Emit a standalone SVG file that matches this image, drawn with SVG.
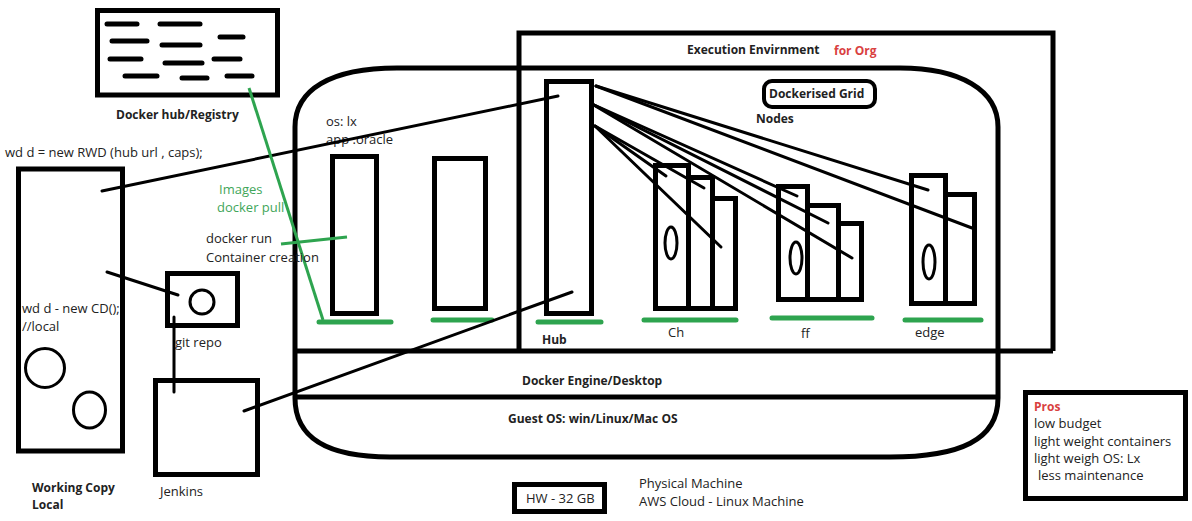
<svg xmlns="http://www.w3.org/2000/svg" width="1192" height="521" viewBox="0 0 1192 521">
<style>
.box{fill:none;stroke:#000;stroke-width:5}
.ln{stroke:#000;stroke-width:3;stroke-linecap:round;fill:none}
.dash{stroke:#000;stroke-width:5;stroke-linecap:round}
.gbar{stroke:#2ea44f;stroke-width:5;stroke-linecap:round}
.gln{stroke:#2ea44f;stroke-width:3;fill:none}
text{font-family:"Open Sans","Noto Sans",sans-serif;font-size:13px;fill:#222}
.b{font-weight:bold;font-size:12px}
.red{fill:#d9413f;font-weight:bold;font-size:12px}
.green{fill:#3fa65a;font-size:13px}
</style>
<rect width="1192" height="521" fill="#fff"/>

<g id="guest-os">
<path class="box" d="M295,127 C295,90 330,68 397,68 L900,68 C960,68 998,90 998,127 L998,398 C998,440 960,457 890,457 L390,457 C330,457 295,440 295,398 Z"/>
<line x1="295" y1="397" x2="998" y2="397" stroke="#000" stroke-width="5"/>
<text class="b" x="508" y="423">Guest OS: win/Linux/Mac OS</text>
</g>

<g id="docker-engine">
<line x1="295" y1="351" x2="1053" y2="351" stroke="#000" stroke-width="5"/>
<text class="b" x="522" y="385">Docker Engine/Desktop</text>
</g>

<g id="execution-env">
<polyline class="box" points="519,351 519,33 1053,33 1053,351"/>
<text class="b" x="687" y="54">Execution Envirnment</text>
<text class="red" x="834" y="55">for Org</text>
<rect x="764" y="81" width="111" height="26" rx="8" fill="none" stroke="#000" stroke-width="4"/>
<text class="b" x="769" y="98">Dockerised Grid</text>
<text class="b" x="756" y="123">Nodes</text>
</g>

<g id="docker-hub">
<rect class="box" x="97.5" y="10.5" width="180" height="84.5"/>
<line class="dash" x1="107" y1="24" x2="137" y2="24"/>
<line class="dash" x1="160" y1="24" x2="200" y2="24"/>
<line class="dash" x1="112" y1="41" x2="147" y2="41"/>
<line class="dash" x1="162" y1="45" x2="200" y2="45"/>
<line class="dash" x1="220" y1="37" x2="243" y2="37"/>
<line class="dash" x1="110" y1="59" x2="141" y2="59"/>
<line class="dash" x1="165" y1="63" x2="202" y2="63"/>
<line class="dash" x1="214" y1="59" x2="240" y2="59"/>
<line class="dash" x1="125" y1="76" x2="157" y2="76"/>
<line class="dash" x1="182" y1="78" x2="207" y2="78"/>
<line class="dash" x1="227" y1="76" x2="252" y2="76"/>
<text class="b" x="116" y="119">Docker hub/Registry</text>
</g>

<g id="working-copy">
<rect class="box" x="18.5" y="169" width="104" height="282"/>
<circle cx="45" cy="368" r="19.5" fill="none" stroke="#000" stroke-width="3"/>
<ellipse cx="89.5" cy="410" rx="16" ry="18" fill="none" stroke="#000" stroke-width="3"/>
<text x="5" y="157">wd d = new RWD (hub url , caps);</text>
<text x="22" y="313">wd d - new CD();</text>
<text x="22" y="331">//local</text>
<text class="b" x="32" y="492">Working Copy</text>
<text class="b" x="32" y="509">Local</text>
</g>

<g id="git-repo">
<rect class="box" x="167.5" y="273.5" width="70" height="52"/>
<circle cx="202" cy="302" r="12" fill="none" stroke="#000" stroke-width="3"/>
<text x="175" y="347">git repo</text>
</g>

<g id="jenkins">
<rect class="box" x="155.5" y="380.5" width="102" height="94"/>
<text x="160" y="496">Jenkins</text>
</g>

<g id="container-1">
<rect class="box" x="332.5" y="156.5" width="44" height="157"/>
<text x="326" y="126">os: lx</text>
<text x="326" y="144">app :oracle</text>
</g>
<g id="container-2">
<rect class="box" x="434.5" y="158.5" width="51" height="150"/>
</g>

<g id="hub">
<rect class="box" x="546.5" y="81.5" width="45" height="232"/>
<text class="b" x="542" y="344">Hub</text>
</g>

<g id="node-ch">
<rect class="box" x="655.5" y="165.5" width="33" height="143"/>
<rect class="box" x="688.5" y="177.5" width="24" height="131"/>
<rect class="box" x="712.5" y="198.5" width="23" height="110"/>
<ellipse cx="671" cy="243" rx="6" ry="16" fill="none" stroke="#000" stroke-width="3"/>
<text x="668" y="337">Ch</text>
</g>

<g id="node-ff">
<rect class="box" x="778.5" y="186.5" width="29" height="113"/>
<rect class="box" x="807.5" y="205.5" width="31" height="94"/>
<rect class="box" x="838.5" y="223.5" width="23" height="76"/>
<ellipse cx="796" cy="258" rx="6" ry="16" fill="none" stroke="#000" stroke-width="3"/>
<text x="801" y="338">ff</text>
</g>

<g id="node-edge">
<rect class="box" x="911.5" y="175.5" width="34" height="128"/>
<rect class="box" x="945.5" y="194.5" width="29" height="109"/>
<ellipse cx="929" cy="262" rx="6" ry="17" fill="none" stroke="#000" stroke-width="3"/>
<text x="915" y="337">edge</text>
</g>

<g id="bases">
<line class="gbar" x1="319" y1="322" x2="391" y2="322"/>
<line class="gbar" x1="433" y1="320" x2="492" y2="320"/>
<line class="gbar" x1="538" y1="322" x2="601" y2="322"/>
<line class="gbar" x1="644" y1="320" x2="736" y2="320"/>
<line class="gbar" x1="772" y1="318" x2="872" y2="318"/>
<line class="gbar" x1="905" y1="320" x2="981" y2="320"/>
</g>

<g id="connectors">
<line class="ln" x1="102" y1="191" x2="558" y2="96"/>
<line class="ln" x1="107" y1="272" x2="178" y2="295"/>
<line class="ln" x1="174" y1="317" x2="174" y2="392"/>
<line class="ln" x1="244" y1="411" x2="572" y2="292"/>
<line class="ln" x1="596" y1="86" x2="928" y2="190"/>
<line class="ln" x1="596" y1="86" x2="972" y2="228"/>
<line class="ln" x1="592" y1="104" x2="797" y2="196"/>
<line class="ln" x1="592" y1="104" x2="828" y2="223"/>
<line class="ln" x1="592" y1="104" x2="852" y2="258"/>
<line class="ln" x1="595" y1="126" x2="666" y2="176"/>
<line class="ln" x1="595" y1="126" x2="704" y2="188"/>
<line class="ln" x1="595" y1="126" x2="721" y2="247"/>
<line class="gln" x1="249" y1="88" x2="323" y2="320"/>
<line class="gln" x1="281" y1="244" x2="347" y2="237"/>
<text class="green" x="219" y="194">Images</text>
<text class="green" x="217" y="212">docker pull</text>
<text x="206" y="243">docker run</text>
<text x="206" y="262">Container creation</text>
</g>

<g id="hw">
<rect class="box" x="514.5" y="484.5" width="90" height="27"/>
<text x="526" y="503">HW - 32 GB</text>
<text x="639" y="488">Physical Machine</text>
<text x="639" y="506">AWS Cloud - Linux Machine</text>
</g>

<g id="pros">
<rect class="box" x="1025.5" y="392.5" width="160" height="106"/>
<text class="red" x="1034" y="411">Pros</text>
<text x="1034" y="428">low budget</text>
<text x="1034" y="446">light weight containers</text>
<text x="1034" y="463">light weigh OS: Lx</text>
<text x="1038" y="480">less maintenance</text>
</g>
</svg>
